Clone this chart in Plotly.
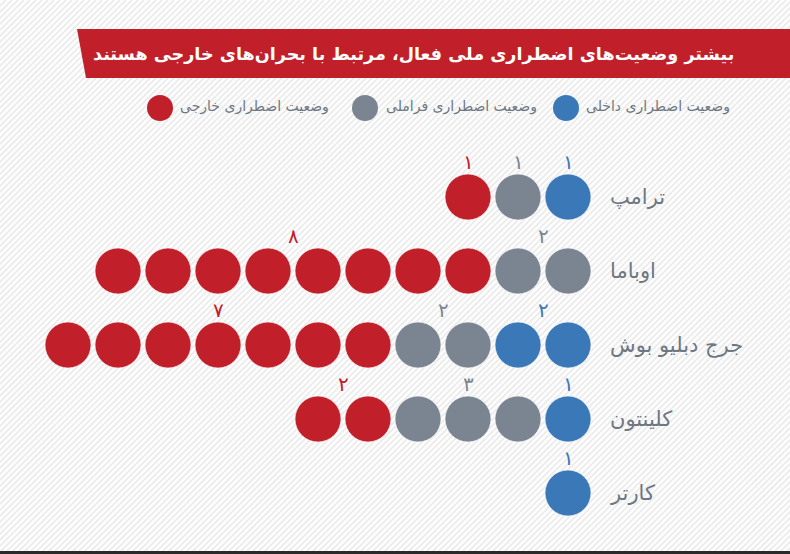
import plotly.graph_objects as go

# ---------------- data ----------------
presidents = ["ترامپ", "اوباما", "جرج دبلیو بوش", "کلینتون", "کارتر"]
domestic = [1, 0, 2, 1, 1]        # وضعیت اضطراری داخلی
transnational = [1, 2, 2, 3, 0]   # وضعیت اضطراری فراملی
foreign = [1, 8, 7, 2, 0]         # وضعیت اضطراری خارجی

category_names = ["وضعیت اضطراری داخلی", "وضعیت اضطراری فراملی", "وضعیت اضطراری خارجی"]
title_text = "بیشتر وضعیت‌های اضطراری ملی فعال، مرتبط با بحران‌های خارجی هستند"

# ---------------- style ----------------
W, H = 790, 554
colors = ["#3b78b8", "#7b8591", "#c1202a"]
name_color = "#6e7782"
FONT = "DejaVu Sans"

fa_digits = str.maketrans("0123456789", "۰۱۲۳۴۵۶۷۸۹")

def px(x):
    return x / W

def py(y):
    return 1 - y / H

series = [domestic, transnational, foreign]

fig = go.Figure()
annotations = []

# circles: slot 0 is the rightmost, stacked domestic -> transnational -> foreign
for ci, vals in enumerate(series):
    xs, ys = [], []
    for ri, n in enumerate(vals):
        start = sum(series[j][ri] for j in range(ci))
        slots = [-(start + k) for k in range(n)]
        xs += slots
        ys += [ri] * n
        if n > 0:
            annotations.append(dict(
                x=sum(slots) / n, y=ri, xref="x", yref="y",
                text=str(n).translate(fa_digits), showarrow=False,
                yshift=35, xanchor="center", yanchor="middle",
                font=dict(family=FONT, size=20, color=colors[ci]),
            ))
    fig.add_trace(go.Scatter(
        x=xs, y=ys, mode="markers", name=category_names[ci],
        marker=dict(size=46, color=colors[ci], line=dict(width=1, color="rgba(255,255,255,0.6)")),
        hoverinfo="skip", showlegend=False,
    ))

# president names
for ri, name in enumerate(presidents):
    annotations.append(dict(
        x=0.8, y=ri, xref="x", yref="y", text=name, showarrow=False,
        xanchor="left", yanchor="middle",
        font=dict(family=FONT, size=21, color=name_color),
    ))

# title
annotations.append(dict(
    x=px(736), y=py(54), xref="paper", yref="paper", text="<b>" + title_text + "</b>",
    showarrow=False, xanchor="right", yanchor="middle",
    font=dict(family=FONT, size=17.6, color="white"),
))

# legend (custom)
shapes = []
legend_pos = [(566, 584), (365, 384), (160, 178)]
for ci, (cx, tx) in enumerate(legend_pos):
    r = 13
    shapes.append(dict(type="circle", xref="paper", yref="paper",
                       x0=px(cx - r), x1=px(cx + r), y0=py(108 + r), y1=py(108 - r),
                       fillcolor=colors[ci], line=dict(width=0), layer="above"))
    annotations.append(dict(
        x=px(tx), y=py(107), xref="paper", yref="paper", text=category_names[ci],
        showarrow=False, xanchor="left", yanchor="middle",
        font=dict(family=FONT, size=14, color=name_color),
    ))

# background diagonal stripes
segs = []
step = 6
x0 = -H
while x0 < W + step:
    segs.append(f"M {px(x0):.5f} {py(H):.5f} L {px(x0 + H):.5f} {py(0):.5f}")
    x0 += step
shapes.insert(0, dict(type="path", xref="paper", yref="paper", path=" ".join(segs),
                      line=dict(color="#ededed", width=2), layer="below"))

# title bar
shapes.append(dict(type="path", xref="paper", yref="paper",
                   path=f"M {px(77)} {py(29)} L {px(W)} {py(29)} L {px(W)} {py(78)} L {px(86)} {py(78)} Z",
                   fillcolor="#c1202a", line=dict(width=0), layer="below"))

# bottom dark line
shapes.append(dict(type="rect", xref="paper", yref="paper",
                   x0=0, x1=1, y0=0, y1=py(551), fillcolor="#2a2a2a", line=dict(width=0)))

fig.update_layout(
    width=W, height=H,
    margin=dict(l=0, r=0, t=0, b=0),
    paper_bgcolor="white", plot_bgcolor="rgba(0,0,0,0)",
    xaxis=dict(range=[(0 - 568) / 50, (W - 568) / 50], visible=False, fixedrange=True),
    yaxis=dict(range=[(H - 197) / 74, (0 - 197) / 74], visible=False, fixedrange=True),
    shapes=shapes, annotations=annotations, showlegend=False,
)

fig.write_html(
    "out.html",
    config={"displayModeBar": False},
    post_script="document.body.style.margin='0';document.body.style.overflow='hidden';",
)
